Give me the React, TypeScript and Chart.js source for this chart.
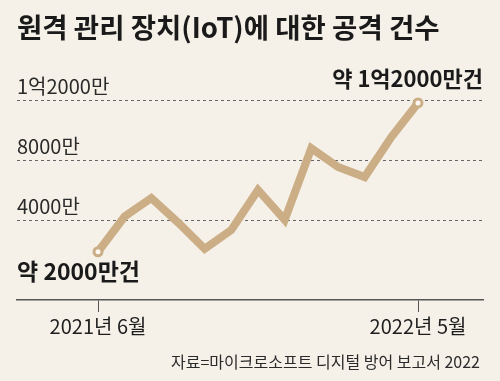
import React, { useEffect, useRef } from 'react';
import { Chart, registerables } from 'chart.js';

Chart.register(...registerables);

const titleText = '원격 관리 장치(IoT)에 대한 공격 건수';
const sourceText = '자료=마이크로소프트 디지털 방어 보고서 2022';
const attacks = [1950, 4300, 5530, 3900, 2150, 3400, 6070, 4070, 8850, 7600, 6930, 9600, 11870]; // 단위: 만 건
const xTickIndex = [0, 12];
const xTickLabels = ['2021년 6월', '2022년 5월'];
const yTicks = [4000, 8000, 12000];
const yTickLabels = ['4000만', '8000만', '1억2000만'];
const startNote = '약 2000만건';
const endNote = '약 1억2000만건';

const FONT = '"Noto Sans CJK KR", "Noto Sans", sans-serif';
const BG = '#f5f1e8';
const LINE = '#cbad86';

const notesPlugin = {
  id: 'notes',
  afterDatasetsDraw(chart: any) {
    const meta = chart.getDatasetMeta(0);
    const first = meta.data[0];
    const last = meta.data[meta.data.length - 1];
    const ctx = chart.ctx;
    const ca = chart.chartArea;
    ctx.save();
    ctx.fillStyle = '#1a1a1a';
    ctx.textBaseline = 'middle';
    ctx.font = `bold 23px ${FONT}`;
    ctx.textAlign = 'left';
    ctx.fillText(startNote, ca.left, first.y + 20);
    ctx.font = `bold 22px ${FONT}`;
    ctx.textAlign = 'right';
    ctx.fillText(endNote, ca.right, last.y - 24);
    ctx.font = `16px ${FONT}`;
    ctx.fillStyle = '#2a2a2a';
    ctx.fillText(sourceText, ca.right - 3, ca.bottom + 62);
    ctx.restore();
  },
};

export default function App() {
  const ref = useRef<HTMLCanvasElement>(null);
  useEffect(() => {
    if (!ref.current) return;
    const chart = new Chart(ref.current, {
      type: 'line',
      data: {
        datasets: [
          {
            data: attacks.map((v, i) => ({ x: i, y: v })),
            borderColor: LINE,
            borderWidth: 8,
            borderJoinStyle: 'miter',
            borderCapStyle: 'butt',
            tension: 0,
            pointRadius: attacks.map((_, i) => (i === 0 || i === attacks.length - 1 ? 4 : 0)),
            pointBackgroundColor: '#fbf8f2',
            pointBorderColor: LINE,
            pointBorderWidth: 3,
            clip: false,
          } as any,
        ],
      },
      options: {
        responsive: false,
        animation: false,
        layout: { padding: { left: 17, right: 17, top: 0, bottom: 0 } },
        plugins: {
          legend: { display: false },
          tooltip: { enabled: false },
          title: {
            display: true,
            text: titleText,
            align: 'start',
            color: '#1a1a1a',
            font: { family: FONT, size: 27.5, weight: 'bold', lineHeight: 1.2 },
            padding: { top: 11, bottom: 16 },
          },
        },
        scales: {
          x: {
            type: 'linear',
            min: -3.0375,
            max: 14.4375,
            afterBuildTicks: (s: any) => {
              s.ticks = xTickIndex.map((v) => ({ value: v }));
            },
            afterFit: (s: any) => {
              s.height = 81;
            },
            ticks: {
              autoSkip: false,
              maxRotation: 0,
              padding: 2,
              color: '#1e1e1e',
              font: { family: FONT, size: 20 },
              callback: (v: any) => {
                const i = xTickIndex.indexOf(Number(v));
                return i >= 0 ? xTickLabels[i] : '';
              },
            },
            grid: { drawOnChartArea: false, drawTicks: true, tickLength: 12, color: '#555', lineWidth: 1 },
            border: { display: true, color: '#555', width: 1.5 },
          },
          y: {
            type: 'linear',
            min: -1266.7,
            max: 14733,
            afterBuildTicks: (s: any) => {
              s.ticks = yTicks.map((v) => ({ value: v }));
            },
            afterFit: (s: any) => {
              s.width = 0;
            },
            ticks: {
              mirror: true,
              padding: 0,
              labelOffset: -15,
              color: '#2a2a2a',
              font: { family: FONT, size: 20 },
              callback: (v: any) => {
                const i = yTicks.indexOf(Number(v));
                return i >= 0 ? yTickLabels[i] : '';
              },
            },
            grid: { drawTicks: false, color: '#666', lineWidth: 1 },
            border: { display: false, dash: [3, 3] },
          },
        },
      } as any,
      plugins: [notesPlugin],
    });
    return () => chart.destroy();
  }, []);

  return (
    <div style={{ position: 'absolute', left: 0, top: 0, width: 500, height: 381, background: BG }}>
      <canvas ref={ref} width={500} height={381} style={{ display: 'block' }} />
    </div>
  );
}
